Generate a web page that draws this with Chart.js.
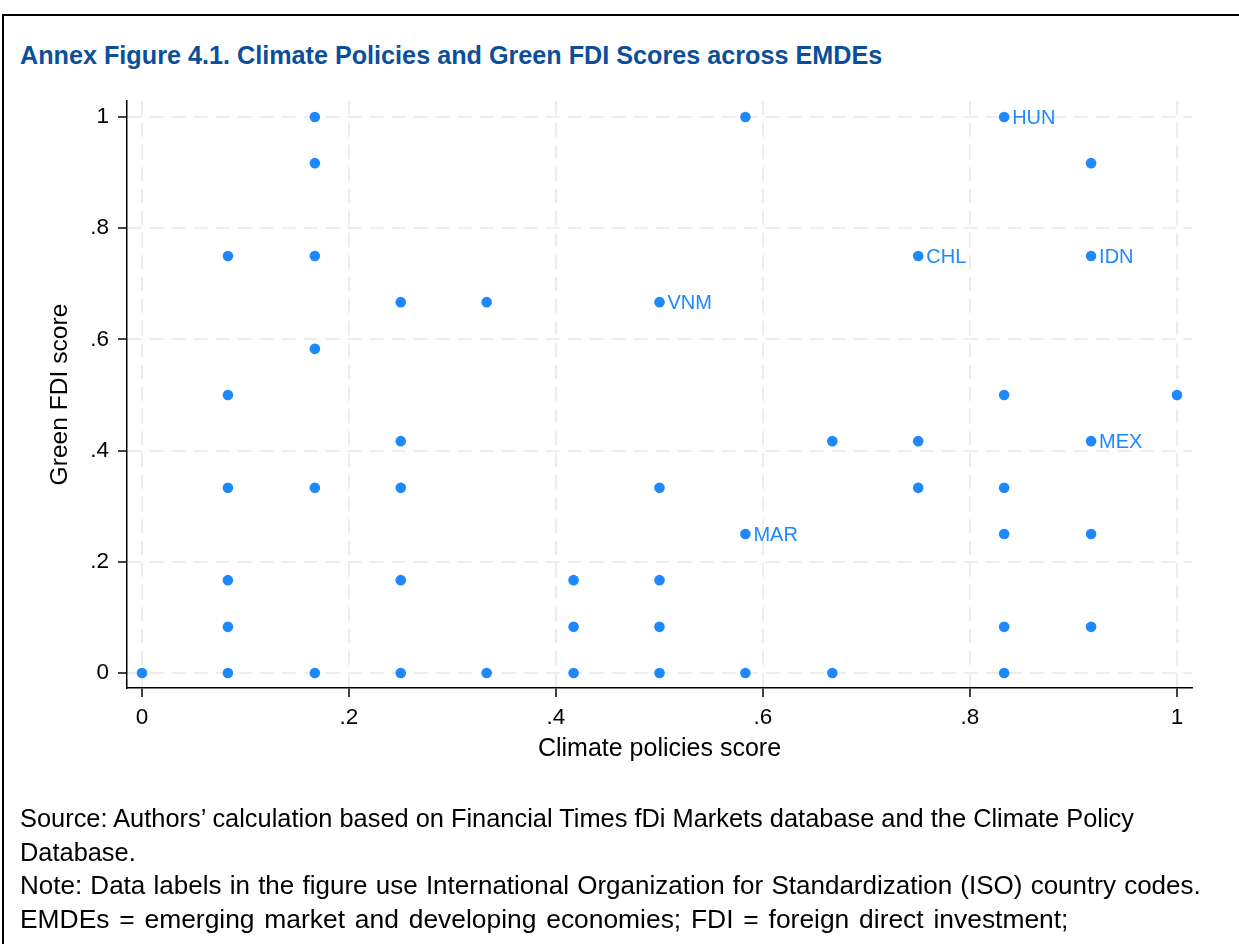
<!DOCTYPE html>
<html>
<head>
<meta charset="utf-8">
<script src="https://cdn.jsdelivr.net/npm/chart.js@4/dist/chart.umd.min.js"></script>
<style>
  html, body { margin: 0; padding: 0; background: #fff; width: 1239px; height: 944px; overflow: hidden; }
  #frame { position: absolute; left: 2px; top: 14px; width: 1260px; height: 1000px; border-left: 2px solid #000; border-top: 2px solid #000; }
  #title { position: absolute; left: 20px; top: 40px; font-family: "Liberation Sans", Arial, sans-serif; font-weight: bold; font-size: 25.2px; color: #0b4f9c; white-space: nowrap; line-height: 30px; }
  #notes { position: absolute; left: 20px; top: 802px; font-family: "Liberation Sans", Arial, sans-serif; font-size: 25.6px; color: #000; line-height: 33.7px; white-space: nowrap; }
  #c { position: absolute; left: 0; top: 0; }
</style>
</head>
<body>
<div id="frame"></div>
<div id="title">Annex Figure 4.1. Climate Policies and Green FDI Scores across EMDEs</div>
<canvas id="c" width="1239" height="944"></canvas>
<div id="notes">
  <div style="font-size:25.4px">Source: Authors’ calculation based on Financial Times fDi Markets database and the Climate Policy</div>
  <div style="font-size:25.4px">Database.</div>
  <div style="font-size:26px;word-spacing:1px">Note: Data labels in the figure use International Organization for Standardization (ISO) country codes.</div>
  <div style="font-size:26.4px;word-spacing:2.5px">EMDEs = emerging market and developing economies; FDI = foreign direct investment;</div>
</div>
<script>
// Climate policies score (x)
const climateScore = [
  0,
  0.083, 0.083, 0.083, 0.083, 0.083, 0.083,
  0.167, 0.167, 0.167, 0.167, 0.167, 0.167,
  0.25, 0.25, 0.25, 0.25, 0.25,
  0.333, 0.333,
  0.417, 0.417, 0.417,
  0.5, 0.5, 0.5, 0.5, 0.5,
  0.583, 0.583, 0.583,
  0.667, 0.667,
  0.75, 0.75, 0.75,
  0.833, 0.833, 0.833, 0.833, 0.833, 0.833,
  0.917, 0.917, 0.917, 0.917, 0.917,
  1
];
// Green FDI score (y)
const greenFdiScore = [
  0,
  0.75, 0.5, 0.333, 0.167, 0.083, 0,
  1, 0.917, 0.75, 0.583, 0.333, 0,
  0.667, 0.417, 0.333, 0.167, 0,
  0.667, 0,
  0.167, 0.083, 0,
  0.667, 0.333, 0.167, 0.083, 0,
  1, 0.25, 0,
  0.417, 0,
  0.75, 0.417, 0.333,
  1, 0.5, 0.333, 0.25, 0.083, 0,
  0.917, 0.75, 0.417, 0.25, 0.083,
  0.5
];
// ISO labels (empty = no label)
const isoLabels = [
  '',
  '', '', '', '', '', '',
  '', '', '', '', '', '',
  '', '', '', '', '',
  '', '',
  '', '', '',
  'VNM', '', '', '', '',
  '', 'MAR', '',
  '', '',
  'CHL', '', '',
  'HUN', '', '', '', '', '',
  '', 'IDN', 'MEX', '', '',
  ''
];
const tickValues = [0, 0.2, 0.4, 0.6, 0.8, 1];
const tickLabels = ['0', '.2', '.4', '.6', '.8', '1'];

const BLUE = '#1e88ff';
const FONT = "'Liberation Sans', Arial, sans-serif";

const points = climateScore.map((x, i) => ({ x: x, y: greenFdiScore[i] }));

const labelPlugin = {
  id: 'isoLabels',
  afterDatasetsDraw(chart) {
    const ctx = chart.ctx;
    const meta = chart.getDatasetMeta(0);
    ctx.save();
    ctx.font = '20px ' + FONT;
    ctx.fillStyle = BLUE;
    ctx.textAlign = 'left';
    ctx.textBaseline = 'middle';
    meta.data.forEach((el, i) => {
      const t = isoLabels[i];
      if (t) ctx.fillText(t, el.x + 8, el.y + 1);
    });
    ctx.restore();
  }
};

function fmtTick(v) {
  const idx = tickValues.findIndex(t => Math.abs(t - v) < 1e-9);
  return idx >= 0 ? tickLabels[idx] : '';
}

new Chart(document.getElementById('c'), {
  type: 'scatter',
  data: {
    datasets: [{
      data: points,
      backgroundColor: BLUE,
      borderColor: BLUE,
      borderWidth: 0,
      pointRadius: 5.3,
      pointHoverRadius: 5.3
    }]
  },
  plugins: [labelPlugin],
  options: {
    responsive: false,
    animation: false,
    devicePixelRatio: 1,
    layout: { padding: { left: 0, top: 101, right: 47, bottom: 176 } },
    plugins: { legend: { display: false }, tooltip: { enabled: false }, title: { display: false } },
    scales: {
      x: {
        type: 'linear',
        min: -0.0145,
        max: 1.0145,
        afterBuildTicks(scale) { scale.ticks = tickValues.map(v => ({ value: v })); },
        afterFit(scale) { scale.height = 80; },
        ticks: {
          callback: (v) => fmtTick(v),
          color: '#000',
          font: { family: FONT, size: 22.5 },
          padding: 7,
          maxRotation: 0,
          autoSkip: false
        },
        grid: {
          color: '#ededed',
          lineWidth: 2,
          tickLength: 9,
          tickColor: '#000',
          tickWidth: 1.5,
          tickBorderDash: []
        },
        border: { display: true, color: '#000', width: 1.5, dash: [14, 8] },
        title: {
          display: true,
          text: 'Climate policies score',
          color: '#000',
          font: { family: FONT, size: 25 },
          padding: { top: 0, bottom: 4 }
        }
      },
      y: {
        type: 'linear',
        min: -0.027,
        max: 1.0288,
        afterBuildTicks(scale) { scale.ticks = tickValues.map(v => ({ value: v })); },
        afterFit(scale) { scale.width = 127; },
        ticks: {
          callback: (v) => fmtTick(v),
          color: '#000',
          font: { family: FONT, size: 22.5 },
          padding: 9,
          autoSkip: false
        },
        grid: {
          color: '#ededed',
          lineWidth: 2,
          tickLength: 9,
          tickColor: '#000',
          tickWidth: 1.5,
          tickBorderDash: []
        },
        border: { display: true, color: '#000', width: 1.5, dash: [14, 8] },
        title: {
          display: true,
          text: 'Green FDI score',
          color: '#000',
          font: { family: FONT, size: 24.6 },
          padding: { top: 45, bottom: 0 }
        }
      }
    }
  }
});
</script>
</body>
</html>
